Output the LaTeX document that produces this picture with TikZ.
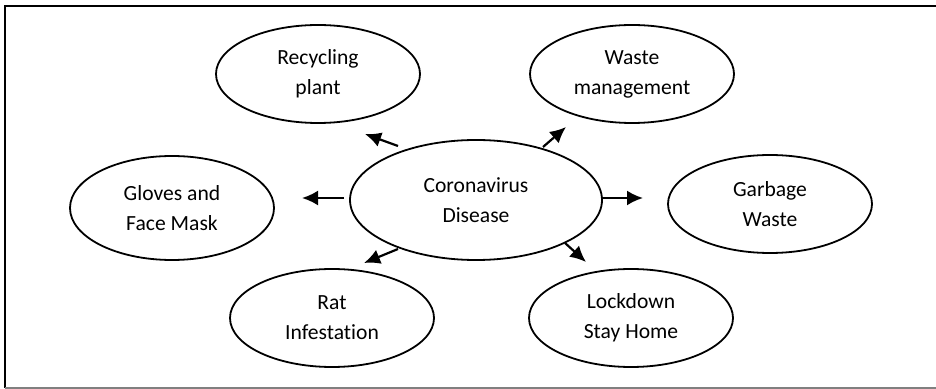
\documentclass[tikz,border=0pt]{standalone}
\usepackage{fontspec}
\setmainfont[Ligatures={NoCommon}]{Carlito}
\usetikzlibrary{arrows.meta, shapes.geometric}

\begin{document}
\begin{tikzpicture}[x=0.5pt, y=-0.5pt, >={Latex[length=8pt, width=7.5pt]}]
				\tikzstyle{oval} = [draw=black, line width=0.9pt, ellipse, inner sep=0pt, align=center, minimum width=102pt, minimum height=49pt, font=\fontsize{10.8}{15}\selectfont]
				\tikzstyle{arr} = [line width=1.1pt]
				
				\useasboundingbox (0, 0) rectangle (936, 389);
				% frame
				\draw[line width=1pt] (936, 6) -- (5, 6) -- (5, 388);
				\draw[line width=1pt, gray] (5, 388) -- (936, 388);
				
				\node[oval, minimum width=126pt, minimum height=60pt] at (476, 200) (core) {Coronavirus\\Disease};
				\node[oval] at (318, 74)	(recyc) 	{Recycling\\plant};
				\node[oval] at (632, 74)	(waste) 	{Waste\\management};
				\node[oval, minimum height=52pt] at (172, 208)	(gloves) 	{Gloves and\\Face Mask};
				\node[oval] at (770, 204)	(garbage) 	{Garbage\\Waste};
				\node[oval] at (332, 318)	(rat) 	{Rat\\Infestation};
				\node[oval] at (631, 318)	(lock) 	{Lockdown\\Stay Home};
				
				\coordinate (r0) at (398, 146);	\coordinate (r1) at (365, 134);
				\coordinate (w0) at (543, 147);	\coordinate (w1) at (566, 127);
				\coordinate (g0) at (344, 198);	\coordinate (g1) at (302, 198);
				\coordinate (b0) at (602, 198);	\coordinate (b1) at (643, 198);
				\coordinate (t0) at (398, 249);	\coordinate (t1) at (364, 263);
				\coordinate (l0) at (565, 243);	\coordinate (l1) at (586, 262);
				
				\path[->, arr]
				(r0)	edge	(r1)
				(w0)	edge	(w1)
				(g0)	edge	(g1)
				(b0)	edge	(b1)
				(t0)	edge	(t1)
				(l0)	edge	(l1);
\end{tikzpicture}
\end{document}
